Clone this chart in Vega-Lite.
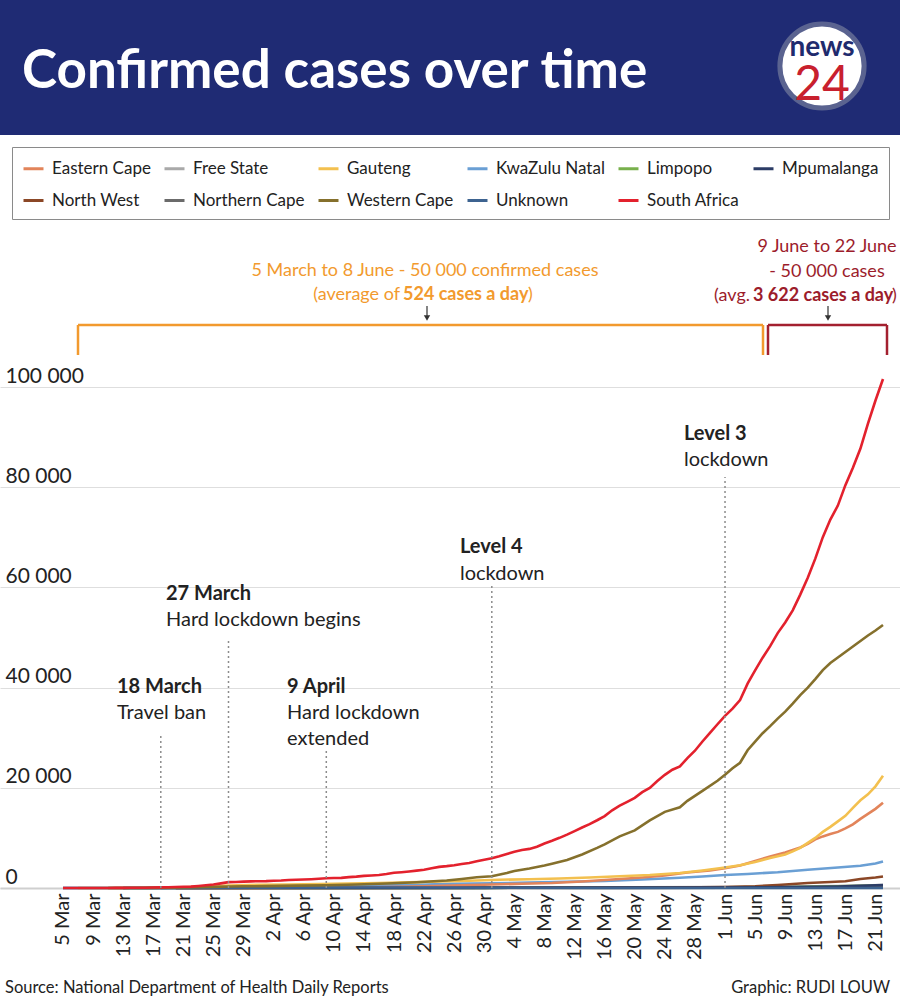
{
  "$schema": "https://vega.github.io/schema/vega-lite/v6.json",
  "width": 900,
  "height": 888,
  "autosize": {"type": "none"},
  "padding": {"left": 0, "top": 0, "right": 0, "bottom": 115},
  "background": "white",
  "config": {
    "view": {"stroke": null},
    "font": "Lato",
    "locale": {"number": {"decimal": ".", "thousands": " ", "grouping": [3], "currency": ["", ""]}},
    "axis": {"labelOverlap": false},
    "axisX": {"labelOverlap": false, "tickCount": 40}
  },
  "datasets": {
    "notes": [
      {"key": "title", "text": "Confirmed cases over time"},
      {"key": "logo1", "text": "news"},
      {"key": "logo2", "text": "24"},
      {"key": "o1", "text": "5 March to 8 June - 50 000 confirmed cases"},
      {"key": "o2", "text": "(average of"},
      {"key": "o3", "text": "524 cases a day"},
      {"key": "o4", "text": ")"},
      {"key": "r1", "text": ["9 June to 22 June", "- 50 000 cases"]},
      {"key": "r3", "text": "(avg."},
      {"key": "r4", "text": "3 622 cases a day"},
      {"key": "r5", "text": ")"},
      {"key": "e1", "date": "2020-03-18", "title": "18 March", "text": "Travel ban"},
      {"key": "e2", "date": "2020-03-27", "title": "27 March", "text": "Hard lockdown begins"},
      {"key": "e3", "date": "2020-04-09", "title": "9 April", "text": ["Hard lockdown", "extended"]},
      {"key": "e4", "date": "2020-05-01", "title": "Level 4", "text": "lockdown"},
      {"key": "e5", "date": "2020-06-01", "title": "Level 3", "text": "lockdown"},
      {"key": "src", "text": "Source: National Department of Health Daily Reports"},
      {"key": "credit", "text": "Graphic: RUDI LOUW"}
    ],
    "cases": [
      {"date": "2020-03-13", "region": "Free State", "cases": 1},
      {"date": "2020-03-27", "region": "Free State", "cases": 60},
      {"date": "2020-04-10", "region": "Free State", "cases": 90},
      {"date": "2020-04-30", "region": "Free State", "cases": 120},
      {"date": "2020-05-20", "region": "Free State", "cases": 140},
      {"date": "2020-06-01", "region": "Free State", "cases": 180},
      {"date": "2020-06-10", "region": "Free State", "cases": 300},
      {"date": "2020-06-16", "region": "Free State", "cases": 400},
      {"date": "2020-06-22", "region": "Free State", "cases": 580},
      {"date": "2020-03-18", "region": "Limpopo", "cases": 1},
      {"date": "2020-04-01", "region": "Limpopo", "cases": 15},
      {"date": "2020-04-30", "region": "Limpopo", "cases": 30},
      {"date": "2020-05-20", "region": "Limpopo", "cases": 80},
      {"date": "2020-06-01", "region": "Limpopo", "cases": 130},
      {"date": "2020-06-10", "region": "Limpopo", "cases": 200},
      {"date": "2020-06-16", "region": "Limpopo", "cases": 350},
      {"date": "2020-06-22", "region": "Limpopo", "cases": 500},
      {"date": "2020-03-20", "region": "Northern Cape", "cases": 1},
      {"date": "2020-04-10", "region": "Northern Cape", "cases": 16},
      {"date": "2020-05-01", "region": "Northern Cape", "cases": 20},
      {"date": "2020-05-20", "region": "Northern Cape", "cases": 30},
      {"date": "2020-06-01", "region": "Northern Cape", "cases": 50},
      {"date": "2020-06-10", "region": "Northern Cape", "cases": 80},
      {"date": "2020-06-16", "region": "Northern Cape", "cases": 150},
      {"date": "2020-06-22", "region": "Northern Cape", "cases": 250},
      {"date": "2020-03-20", "region": "North West", "cases": 1},
      {"date": "2020-04-10", "region": "North West", "cases": 20},
      {"date": "2020-05-01", "region": "North West", "cases": 40},
      {"date": "2020-05-15", "region": "North West", "cases": 60},
      {"date": "2020-05-25", "region": "North West", "cases": 100},
      {"date": "2020-06-01", "region": "North West", "cases": 200},
      {"date": "2020-06-05", "region": "North West", "cases": 350},
      {"date": "2020-06-08", "region": "North West", "cases": 600},
      {"date": "2020-06-10", "region": "North West", "cases": 800},
      {"date": "2020-06-12", "region": "North West", "cases": 1000},
      {"date": "2020-06-15", "region": "North West", "cases": 1200},
      {"date": "2020-06-17", "region": "North West", "cases": 1350},
      {"date": "2020-06-19", "region": "North West", "cases": 1800},
      {"date": "2020-06-21", "region": "North West", "cases": 2100},
      {"date": "2020-06-22", "region": "North West", "cases": 2300},
      {"date": "2020-03-05", "region": "KwaZulu Natal", "cases": 1},
      {"date": "2020-03-12", "region": "KwaZulu Natal", "cases": 5},
      {"date": "2020-03-18", "region": "KwaZulu Natal", "cases": 30},
      {"date": "2020-03-22", "region": "KwaZulu Natal", "cases": 60},
      {"date": "2020-03-27", "region": "KwaZulu Natal", "cases": 130},
      {"date": "2020-04-01", "region": "KwaZulu Natal", "cases": 220},
      {"date": "2020-04-06", "region": "KwaZulu Natal", "cases": 330},
      {"date": "2020-04-11", "region": "KwaZulu Natal", "cases": 400},
      {"date": "2020-04-16", "region": "KwaZulu Natal", "cases": 550},
      {"date": "2020-04-21", "region": "KwaZulu Natal", "cases": 650},
      {"date": "2020-04-26", "region": "KwaZulu Natal", "cases": 850},
      {"date": "2020-05-01", "region": "KwaZulu Natal", "cases": 950},
      {"date": "2020-05-06", "region": "KwaZulu Natal", "cases": 1080},
      {"date": "2020-05-11", "region": "KwaZulu Natal", "cases": 1250},
      {"date": "2020-05-16", "region": "KwaZulu Natal", "cases": 1400},
      {"date": "2020-05-21", "region": "KwaZulu Natal", "cases": 1700},
      {"date": "2020-05-26", "region": "KwaZulu Natal", "cases": 2050},
      {"date": "2020-05-29", "region": "KwaZulu Natal", "cases": 2300},
      {"date": "2020-06-01", "region": "KwaZulu Natal", "cases": 2600},
      {"date": "2020-06-04", "region": "KwaZulu Natal", "cases": 2800},
      {"date": "2020-06-08", "region": "KwaZulu Natal", "cases": 3150},
      {"date": "2020-06-12", "region": "KwaZulu Natal", "cases": 3650},
      {"date": "2020-06-16", "region": "KwaZulu Natal", "cases": 4100},
      {"date": "2020-06-19", "region": "KwaZulu Natal", "cases": 4450},
      {"date": "2020-06-21", "region": "KwaZulu Natal", "cases": 4900},
      {"date": "2020-06-22", "region": "KwaZulu Natal", "cases": 5300},
      {"date": "2020-03-20", "region": "Eastern Cape", "cases": 1},
      {"date": "2020-03-27", "region": "Eastern Cape", "cases": 20},
      {"date": "2020-04-03", "region": "Eastern Cape", "cases": 40},
      {"date": "2020-04-10", "region": "Eastern Cape", "cases": 50},
      {"date": "2020-04-17", "region": "Eastern Cape", "cases": 200},
      {"date": "2020-04-22", "region": "Eastern Cape", "cases": 350},
      {"date": "2020-04-27", "region": "Eastern Cape", "cases": 530},
      {"date": "2020-05-01", "region": "Eastern Cape", "cases": 700},
      {"date": "2020-05-05", "region": "Eastern Cape", "cases": 850},
      {"date": "2020-05-09", "region": "Eastern Cape", "cases": 1000},
      {"date": "2020-05-13", "region": "Eastern Cape", "cases": 1300},
      {"date": "2020-05-17", "region": "Eastern Cape", "cases": 1700},
      {"date": "2020-05-21", "region": "Eastern Cape", "cases": 2100},
      {"date": "2020-05-24", "region": "Eastern Cape", "cases": 2500},
      {"date": "2020-05-27", "region": "Eastern Cape", "cases": 3100},
      {"date": "2020-05-30", "region": "Eastern Cape", "cases": 3500},
      {"date": "2020-06-01", "region": "Eastern Cape", "cases": 3950},
      {"date": "2020-06-03", "region": "Eastern Cape", "cases": 4500},
      {"date": "2020-06-05", "region": "Eastern Cape", "cases": 5400},
      {"date": "2020-06-07", "region": "Eastern Cape", "cases": 6300},
      {"date": "2020-06-09", "region": "Eastern Cape", "cases": 7100},
      {"date": "2020-06-11", "region": "Eastern Cape", "cases": 8100},
      {"date": "2020-06-12", "region": "Eastern Cape", "cases": 8800},
      {"date": "2020-06-13", "region": "Eastern Cape", "cases": 9700},
      {"date": "2020-06-14", "region": "Eastern Cape", "cases": 10300},
      {"date": "2020-06-15", "region": "Eastern Cape", "cases": 10800},
      {"date": "2020-06-16", "region": "Eastern Cape", "cases": 11200},
      {"date": "2020-06-17", "region": "Eastern Cape", "cases": 11900},
      {"date": "2020-06-18", "region": "Eastern Cape", "cases": 12700},
      {"date": "2020-06-19", "region": "Eastern Cape", "cases": 13800},
      {"date": "2020-06-20", "region": "Eastern Cape", "cases": 14800},
      {"date": "2020-06-21", "region": "Eastern Cape", "cases": 15800},
      {"date": "2020-06-22", "region": "Eastern Cape", "cases": 17000},
      {"date": "2020-03-07", "region": "Gauteng", "cases": 1},
      {"date": "2020-03-11", "region": "Gauteng", "cases": 5},
      {"date": "2020-03-15", "region": "Gauteng", "cases": 20},
      {"date": "2020-03-18", "region": "Gauteng", "cases": 60},
      {"date": "2020-03-21", "region": "Gauteng", "cases": 120},
      {"date": "2020-03-24", "region": "Gauteng", "cases": 310},
      {"date": "2020-03-27", "region": "Gauteng", "cases": 500},
      {"date": "2020-03-31", "region": "Gauteng", "cases": 640},
      {"date": "2020-04-04", "region": "Gauteng", "cases": 700},
      {"date": "2020-04-08", "region": "Gauteng", "cases": 790},
      {"date": "2020-04-12", "region": "Gauteng", "cases": 880},
      {"date": "2020-04-16", "region": "Gauteng", "cases": 1000},
      {"date": "2020-04-20", "region": "Gauteng", "cases": 1120},
      {"date": "2020-04-24", "region": "Gauteng", "cases": 1300},
      {"date": "2020-04-28", "region": "Gauteng", "cases": 1450},
      {"date": "2020-05-02", "region": "Gauteng", "cases": 1650},
      {"date": "2020-05-06", "region": "Gauteng", "cases": 1750},
      {"date": "2020-05-10", "region": "Gauteng", "cases": 1900},
      {"date": "2020-05-14", "region": "Gauteng", "cases": 2100},
      {"date": "2020-05-18", "region": "Gauteng", "cases": 2350},
      {"date": "2020-05-22", "region": "Gauteng", "cases": 2600},
      {"date": "2020-05-26", "region": "Gauteng", "cases": 3000},
      {"date": "2020-05-29", "region": "Gauteng", "cases": 3500},
      {"date": "2020-06-01", "region": "Gauteng", "cases": 4100},
      {"date": "2020-06-03", "region": "Gauteng", "cases": 4550},
      {"date": "2020-06-05", "region": "Gauteng", "cases": 5200},
      {"date": "2020-06-07", "region": "Gauteng", "cases": 6000},
      {"date": "2020-06-09", "region": "Gauteng", "cases": 6700},
      {"date": "2020-06-10", "region": "Gauteng", "cases": 7300},
      {"date": "2020-06-11", "region": "Gauteng", "cases": 8000},
      {"date": "2020-06-12", "region": "Gauteng", "cases": 9000},
      {"date": "2020-06-13", "region": "Gauteng", "cases": 10000},
      {"date": "2020-06-14", "region": "Gauteng", "cases": 11200},
      {"date": "2020-06-15", "region": "Gauteng", "cases": 12200},
      {"date": "2020-06-16", "region": "Gauteng", "cases": 13300},
      {"date": "2020-06-17", "region": "Gauteng", "cases": 14400},
      {"date": "2020-06-18", "region": "Gauteng", "cases": 16000},
      {"date": "2020-06-19", "region": "Gauteng", "cases": 17500},
      {"date": "2020-06-20", "region": "Gauteng", "cases": 18700},
      {"date": "2020-06-21", "region": "Gauteng", "cases": 20300},
      {"date": "2020-06-22", "region": "Gauteng", "cases": 22400},
      {"date": "2020-03-13", "region": "Mpumalanga", "cases": 1},
      {"date": "2020-04-01", "region": "Mpumalanga", "cases": 10},
      {"date": "2020-04-30", "region": "Mpumalanga", "cases": 30},
      {"date": "2020-05-20", "region": "Mpumalanga", "cases": 80},
      {"date": "2020-06-01", "region": "Mpumalanga", "cases": 100},
      {"date": "2020-06-10", "region": "Mpumalanga", "cases": 200},
      {"date": "2020-06-16", "region": "Mpumalanga", "cases": 300},
      {"date": "2020-06-22", "region": "Mpumalanga", "cases": 580},
      {"date": "2020-03-05", "region": "Unknown", "cases": 0},
      {"date": "2020-03-22", "region": "Unknown", "cases": 10},
      {"date": "2020-04-01", "region": "Unknown", "cases": 50},
      {"date": "2020-04-15", "region": "Unknown", "cases": 100},
      {"date": "2020-05-01", "region": "Unknown", "cases": 50},
      {"date": "2020-05-15", "region": "Unknown", "cases": 0},
      {"date": "2020-06-01", "region": "Unknown", "cases": 0},
      {"date": "2020-06-22", "region": "Unknown", "cases": 0},
      {"date": "2020-03-11", "region": "Western Cape", "cases": 1},
      {"date": "2020-03-13", "region": "Western Cape", "cases": 5},
      {"date": "2020-03-15", "region": "Western Cape", "cases": 14},
      {"date": "2020-03-17", "region": "Western Cape", "cases": 25},
      {"date": "2020-03-19", "region": "Western Cape", "cases": 50},
      {"date": "2020-03-21", "region": "Western Cape", "cases": 90},
      {"date": "2020-03-23", "region": "Western Cape", "cases": 150},
      {"date": "2020-03-25", "region": "Western Cape", "cases": 230},
      {"date": "2020-03-27", "region": "Western Cape", "cases": 300},
      {"date": "2020-03-29", "region": "Western Cape", "cases": 340},
      {"date": "2020-04-01", "region": "Western Cape", "cases": 370},
      {"date": "2020-04-05", "region": "Western Cape", "cases": 480},
      {"date": "2020-04-09", "region": "Western Cape", "cases": 560},
      {"date": "2020-04-13", "region": "Western Cape", "cases": 700},
      {"date": "2020-04-17", "region": "Western Cape", "cases": 900},
      {"date": "2020-04-21", "region": "Western Cape", "cases": 1150},
      {"date": "2020-04-25", "region": "Western Cape", "cases": 1500},
      {"date": "2020-04-27", "region": "Western Cape", "cases": 1800},
      {"date": "2020-04-29", "region": "Western Cape", "cases": 2150},
      {"date": "2020-05-01", "region": "Western Cape", "cases": 2330},
      {"date": "2020-05-03", "region": "Western Cape", "cases": 3000},
      {"date": "2020-05-04", "region": "Western Cape", "cases": 3400},
      {"date": "2020-05-06", "region": "Western Cape", "cases": 3900},
      {"date": "2020-05-08", "region": "Western Cape", "cases": 4500},
      {"date": "2020-05-09", "region": "Western Cape", "cases": 4850},
      {"date": "2020-05-11", "region": "Western Cape", "cases": 5600},
      {"date": "2020-05-13", "region": "Western Cape", "cases": 6700},
      {"date": "2020-05-15", "region": "Western Cape", "cases": 8000},
      {"date": "2020-05-16", "region": "Western Cape", "cases": 8700},
      {"date": "2020-05-18", "region": "Western Cape", "cases": 10300},
      {"date": "2020-05-20", "region": "Western Cape", "cases": 11500},
      {"date": "2020-05-22", "region": "Western Cape", "cases": 13500},
      {"date": "2020-05-24", "region": "Western Cape", "cases": 15200},
      {"date": "2020-05-26", "region": "Western Cape", "cases": 16100},
      {"date": "2020-05-27", "region": "Western Cape", "cases": 17400},
      {"date": "2020-05-29", "region": "Western Cape", "cases": 19400},
      {"date": "2020-05-31", "region": "Western Cape", "cases": 21400},
      {"date": "2020-06-01", "region": "Western Cape", "cases": 22600},
      {"date": "2020-06-02", "region": "Western Cape", "cases": 23900},
      {"date": "2020-06-03", "region": "Western Cape", "cases": 25000},
      {"date": "2020-06-04", "region": "Western Cape", "cases": 27500},
      {"date": "2020-06-05", "region": "Western Cape", "cases": 29200},
      {"date": "2020-06-06", "region": "Western Cape", "cases": 30900},
      {"date": "2020-06-07", "region": "Western Cape", "cases": 32300},
      {"date": "2020-06-08", "region": "Western Cape", "cases": 33800},
      {"date": "2020-06-09", "region": "Western Cape", "cases": 35200},
      {"date": "2020-06-10", "region": "Western Cape", "cases": 36800},
      {"date": "2020-06-11", "region": "Western Cape", "cases": 38500},
      {"date": "2020-06-12", "region": "Western Cape", "cases": 40000},
      {"date": "2020-06-13", "region": "Western Cape", "cases": 41700},
      {"date": "2020-06-14", "region": "Western Cape", "cases": 43500},
      {"date": "2020-06-15", "region": "Western Cape", "cases": 44900},
      {"date": "2020-06-16", "region": "Western Cape", "cases": 46000},
      {"date": "2020-06-17", "region": "Western Cape", "cases": 47100},
      {"date": "2020-06-18", "region": "Western Cape", "cases": 48200},
      {"date": "2020-06-19", "region": "Western Cape", "cases": 49300},
      {"date": "2020-06-20", "region": "Western Cape", "cases": 50400},
      {"date": "2020-06-21", "region": "Western Cape", "cases": 51400},
      {"date": "2020-06-22", "region": "Western Cape", "cases": 52500},
      {"date": "2020-03-05", "region": "South Africa", "cases": 1},
      {"date": "2020-03-07", "region": "South Africa", "cases": 2},
      {"date": "2020-03-08", "region": "South Africa", "cases": 3},
      {"date": "2020-03-09", "region": "South Africa", "cases": 7},
      {"date": "2020-03-11", "region": "South Africa", "cases": 13},
      {"date": "2020-03-12", "region": "South Africa", "cases": 16},
      {"date": "2020-03-13", "region": "South Africa", "cases": 24},
      {"date": "2020-03-14", "region": "South Africa", "cases": 38},
      {"date": "2020-03-15", "region": "South Africa", "cases": 51},
      {"date": "2020-03-16", "region": "South Africa", "cases": 62},
      {"date": "2020-03-17", "region": "South Africa", "cases": 85},
      {"date": "2020-03-18", "region": "South Africa", "cases": 116},
      {"date": "2020-03-19", "region": "South Africa", "cases": 150},
      {"date": "2020-03-20", "region": "South Africa", "cases": 202},
      {"date": "2020-03-21", "region": "South Africa", "cases": 240},
      {"date": "2020-03-22", "region": "South Africa", "cases": 274},
      {"date": "2020-03-23", "region": "South Africa", "cases": 402},
      {"date": "2020-03-24", "region": "South Africa", "cases": 554},
      {"date": "2020-03-25", "region": "South Africa", "cases": 709},
      {"date": "2020-03-26", "region": "South Africa", "cases": 927},
      {"date": "2020-03-27", "region": "South Africa", "cases": 1170},
      {"date": "2020-03-28", "region": "South Africa", "cases": 1187},
      {"date": "2020-03-29", "region": "South Africa", "cases": 1280},
      {"date": "2020-03-30", "region": "South Africa", "cases": 1326},
      {"date": "2020-03-31", "region": "South Africa", "cases": 1353},
      {"date": "2020-04-01", "region": "South Africa", "cases": 1380},
      {"date": "2020-04-02", "region": "South Africa", "cases": 1462},
      {"date": "2020-04-03", "region": "South Africa", "cases": 1505},
      {"date": "2020-04-04", "region": "South Africa", "cases": 1585},
      {"date": "2020-04-05", "region": "South Africa", "cases": 1655},
      {"date": "2020-04-06", "region": "South Africa", "cases": 1686},
      {"date": "2020-04-07", "region": "South Africa", "cases": 1749},
      {"date": "2020-04-08", "region": "South Africa", "cases": 1845},
      {"date": "2020-04-09", "region": "South Africa", "cases": 1934},
      {"date": "2020-04-10", "region": "South Africa", "cases": 2003},
      {"date": "2020-04-11", "region": "South Africa", "cases": 2028},
      {"date": "2020-04-12", "region": "South Africa", "cases": 2173},
      {"date": "2020-04-13", "region": "South Africa", "cases": 2272},
      {"date": "2020-04-14", "region": "South Africa", "cases": 2415},
      {"date": "2020-04-15", "region": "South Africa", "cases": 2506},
      {"date": "2020-04-16", "region": "South Africa", "cases": 2605},
      {"date": "2020-04-17", "region": "South Africa", "cases": 2783},
      {"date": "2020-04-18", "region": "South Africa", "cases": 3034},
      {"date": "2020-04-19", "region": "South Africa", "cases": 3158},
      {"date": "2020-04-20", "region": "South Africa", "cases": 3300},
      {"date": "2020-04-21", "region": "South Africa", "cases": 3465},
      {"date": "2020-04-22", "region": "South Africa", "cases": 3635},
      {"date": "2020-04-23", "region": "South Africa", "cases": 3953},
      {"date": "2020-04-24", "region": "South Africa", "cases": 4220},
      {"date": "2020-04-25", "region": "South Africa", "cases": 4361},
      {"date": "2020-04-26", "region": "South Africa", "cases": 4546},
      {"date": "2020-04-27", "region": "South Africa", "cases": 4793},
      {"date": "2020-04-28", "region": "South Africa", "cases": 4996},
      {"date": "2020-04-29", "region": "South Africa", "cases": 5350},
      {"date": "2020-04-30", "region": "South Africa", "cases": 5647},
      {"date": "2020-05-01", "region": "South Africa", "cases": 5951},
      {"date": "2020-05-02", "region": "South Africa", "cases": 6336},
      {"date": "2020-05-03", "region": "South Africa", "cases": 6783},
      {"date": "2020-05-04", "region": "South Africa", "cases": 7220},
      {"date": "2020-05-05", "region": "South Africa", "cases": 7572},
      {"date": "2020-05-06", "region": "South Africa", "cases": 7808},
      {"date": "2020-05-07", "region": "South Africa", "cases": 8232},
      {"date": "2020-05-08", "region": "South Africa", "cases": 8895},
      {"date": "2020-05-09", "region": "South Africa", "cases": 9420},
      {"date": "2020-05-10", "region": "South Africa", "cases": 10015},
      {"date": "2020-05-11", "region": "South Africa", "cases": 10652},
      {"date": "2020-05-12", "region": "South Africa", "cases": 11350},
      {"date": "2020-05-13", "region": "South Africa", "cases": 12074},
      {"date": "2020-05-14", "region": "South Africa", "cases": 12739},
      {"date": "2020-05-15", "region": "South Africa", "cases": 13524},
      {"date": "2020-05-16", "region": "South Africa", "cases": 14355},
      {"date": "2020-05-17", "region": "South Africa", "cases": 15515},
      {"date": "2020-05-18", "region": "South Africa", "cases": 16433},
      {"date": "2020-05-19", "region": "South Africa", "cases": 17200},
      {"date": "2020-05-20", "region": "South Africa", "cases": 18003},
      {"date": "2020-05-21", "region": "South Africa", "cases": 19137},
      {"date": "2020-05-22", "region": "South Africa", "cases": 19980},
      {"date": "2020-05-23", "region": "South Africa", "cases": 21343},
      {"date": "2020-05-24", "region": "South Africa", "cases": 22583},
      {"date": "2020-05-25", "region": "South Africa", "cases": 23615},
      {"date": "2020-05-26", "region": "South Africa", "cases": 24264},
      {"date": "2020-05-27", "region": "South Africa", "cases": 25937},
      {"date": "2020-05-28", "region": "South Africa", "cases": 27403},
      {"date": "2020-05-29", "region": "South Africa", "cases": 29240},
      {"date": "2020-05-30", "region": "South Africa", "cases": 30967},
      {"date": "2020-05-31", "region": "South Africa", "cases": 32683},
      {"date": "2020-06-01", "region": "South Africa", "cases": 34357},
      {"date": "2020-06-02", "region": "South Africa", "cases": 35812},
      {"date": "2020-06-03", "region": "South Africa", "cases": 37525},
      {"date": "2020-06-04", "region": "South Africa", "cases": 40792},
      {"date": "2020-06-05", "region": "South Africa", "cases": 43434},
      {"date": "2020-06-06", "region": "South Africa", "cases": 45973},
      {"date": "2020-06-07", "region": "South Africa", "cases": 48285},
      {"date": "2020-06-08", "region": "South Africa", "cases": 50879},
      {"date": "2020-06-09", "region": "South Africa", "cases": 52991},
      {"date": "2020-06-10", "region": "South Africa", "cases": 55421},
      {"date": "2020-06-11", "region": "South Africa", "cases": 58568},
      {"date": "2020-06-12", "region": "South Africa", "cases": 61927},
      {"date": "2020-06-13", "region": "South Africa", "cases": 65736},
      {"date": "2020-06-14", "region": "South Africa", "cases": 70038},
      {"date": "2020-06-15", "region": "South Africa", "cases": 73533},
      {"date": "2020-06-16", "region": "South Africa", "cases": 76334},
      {"date": "2020-06-17", "region": "South Africa", "cases": 80412},
      {"date": "2020-06-18", "region": "South Africa", "cases": 83890},
      {"date": "2020-06-19", "region": "South Africa", "cases": 87715},
      {"date": "2020-06-20", "region": "South Africa", "cases": 92681},
      {"date": "2020-06-21", "region": "South Africa", "cases": 97302},
      {"date": "2020-06-22", "region": "South Africa", "cases": 101590}
    ]
  },
  "data": {"name": "notes"},
  "layer": [
    {"data": {"name": "cases"},
     "mark": {"type": "line", "strokeWidth": 2.6, "clip": false},
     "encoding": {
       "x": {"field": "date", "type": "temporal",
             "scale": {"type": "utc", "domain": [1582642886400, 1592979264000]},
             "axis": {"title": null, "tickCount": 40, "values": [
               {"year": 2020, "month": 3, "date": 5, "utc": true}, {"year": 2020, "month": 3, "date": 9, "utc": true},
               {"year": 2020, "month": 3, "date": 13, "utc": true}, {"year": 2020, "month": 3, "date": 17, "utc": true},
               {"year": 2020, "month": 3, "date": 21, "utc": true}, {"year": 2020, "month": 3, "date": 25, "utc": true},
               {"year": 2020, "month": 3, "date": 29, "utc": true}, {"year": 2020, "month": 4, "date": 2, "utc": true},
               {"year": 2020, "month": 4, "date": 6, "utc": true}, {"year": 2020, "month": 4, "date": 10, "utc": true},
               {"year": 2020, "month": 4, "date": 14, "utc": true}, {"year": 2020, "month": 4, "date": 18, "utc": true},
               {"year": 2020, "month": 4, "date": 22, "utc": true}, {"year": 2020, "month": 4, "date": 26, "utc": true},
               {"year": 2020, "month": 4, "date": 30, "utc": true}, {"year": 2020, "month": 5, "date": 4, "utc": true},
               {"year": 2020, "month": 5, "date": 8, "utc": true}, {"year": 2020, "month": 5, "date": 12, "utc": true},
               {"year": 2020, "month": 5, "date": 16, "utc": true}, {"year": 2020, "month": 5, "date": 20, "utc": true},
               {"year": 2020, "month": 5, "date": 24, "utc": true}, {"year": 2020, "month": 5, "date": 28, "utc": true},
               {"year": 2020, "month": 6, "date": 1, "utc": true}, {"year": 2020, "month": 6, "date": 5, "utc": true},
               {"year": 2020, "month": 6, "date": 9, "utc": true}, {"year": 2020, "month": 6, "date": 13, "utc": true},
               {"year": 2020, "month": 6, "date": 17, "utc": true}, {"year": 2020, "month": 6, "date": 21, "utc": true}],
               "format": "%-d %b", "labelAngle": -90, "labelAlign": "right", "labelBaseline": "middle",
               "labelFont": "Lato", "labelFontSize": 20, "labelColor": "#222222", "labelPadding": 5,
               "ticks": false, "grid": false, "domain": true, "domainColor": "#cfcfcf", "domainWidth": 2,
               "labelOverlap": false, "labelFlush": false, "labelBound": false}},
       "y": {"field": "cases", "type": "quantitative",
             "scale": {"domain": [0, 177250], "nice": false, "zero": true},
             "axis": {"title": null, "values": [0, 20000, 40000, 60000, 80000, 100000],
               "domain": false, "ticks": false, "grid": true, "gridColor": "#dedede", "gridWidth": 1,
               "labelAlign": "left", "labelBaseline": "alphabetic", "labelPadding": -5, "labelOffset": -5,
               "labelFont": "Lato", "labelFontSize": 21, "labelColor": "#222222", "labelFlush": false,
               "labelOverlap": false, "labelBound": false, "format": ",d"}},
       "color": {"field": "region", "type": "nominal",
         "scale": {"domain": ["Eastern Cape", "Free State", "Gauteng", "KwaZulu Natal", "Limpopo", "Mpumalanga", "North West", "Northern Cape", "Western Cape", "Unknown", "South Africa"],
                   "range": ["#e2845a", "#a9a9a9", "#f3c04f", "#6a9fd4", "#78b04c", "#2c3c66", "#8b4726", "#6b6b6b", "#85702c", "#3d6390", "#e3212d"]},
         "legend": {"title": null, "orient": "none", "legendX": 12, "legendY": 147, "columns": 6, "direction": "horizontal",
           "symbolType": "stroke", "symbolStrokeWidth": 3, "symbolSize": 400, "labelFont": "Lato", "labelFontSize": 17,
           "labelColor": "#222222", "labelLimit": 300, "labelOffset": 7, "columnPadding": 7, "rowPadding": 12,
           "padding": 10, "strokeColor": "#8a8a8a"}}
     }},

    {"transform": [{"filter": "datum.key == 'title'"}],
     "mark": {"type": "rect", "color": "#1f2b74"},
     "encoding": {"x": {"datum": 1582642886400, "type": "temporal"}, "x2": {"datum": 1592979264000},
                  "y": {"datum": 150303, "type": "quantitative"}, "y2": {"datum": 177250}}},
    {"transform": [{"filter": "datum.key == 'title'"}],
     "mark": {"type": "text", "align": "left", "baseline": "alphabetic", "font": "Lato", "fontSize": 53, "fontWeight": "bold", "color": "#ffffff"},
     "encoding": {"x": {"datum": 1582895553408, "type": "temporal"}, "y": {"datum": 159685, "type": "quantitative"}, "text": {"field": "text"}}},
    {"transform": [{"filter": "datum.key == 'logo1'"}],
     "mark": {"type": "point", "shape": "circle", "filled": true, "fill": "#ffffff", "stroke": "#5a6390", "strokeWidth": 5, "size": 7088, "opacity": 1},
     "encoding": {"x": {"datum": 1592083444608, "type": "temporal"}, "y": {"datum": 164076, "type": "quantitative"}}},
    {"transform": [{"filter": "datum.key == 'logo1'"}],
     "mark": {"type": "text", "align": "center", "baseline": "alphabetic", "font": "Lato", "fontSize": 28, "fontWeight": "bold", "color": "#1f2b6e"},
     "encoding": {"x": {"datum": 1592083444608, "type": "temporal"}, "y": {"datum": 166072, "type": "quantitative"}, "text": {"field": "text"}}},
    {"transform": [{"filter": "datum.key == 'logo2'"}],
     "mark": {"type": "text", "align": "center", "baseline": "alphabetic", "font": "Lato", "fontSize": 48, "color": "#c8202e"},
     "encoding": {"x": {"datum": 1592083444608, "type": "temporal"}, "y": {"datum": 157290, "type": "quantitative"}, "text": {"field": "text"}}},

    {"transform": [{"filter": "datum.key == 'o1'"}],
     "mark": {"type": "rule", "color": "#f29a2e", "strokeWidth": 2.5},
     "encoding": {"x": {"datum": 1583538705792, "type": "temporal"}, "x2": {"datum": 1591405837632}, "y": {"datum": 112378, "type": "quantitative"}}},
    {"transform": [{"filter": "datum.key == 'o1'"}],
     "mark": {"type": "rule", "color": "#f29a2e", "strokeWidth": 2.5},
     "encoding": {"x": {"datum": 1583538705792, "type": "temporal"}, "y": {"datum": 106390, "type": "quantitative"}, "y2": {"datum": 112378}}},
    {"transform": [{"filter": "datum.key == 'o1'"}],
     "mark": {"type": "rule", "color": "#f29a2e", "strokeWidth": 2.5},
     "encoding": {"x": {"datum": 1591405837632, "type": "temporal"}, "y": {"datum": 106390, "type": "quantitative"}, "y2": {"datum": 112378}}},
    {"transform": [{"filter": "datum.key == 'r1'"}],
     "mark": {"type": "rule", "color": "#a3202f", "strokeWidth": 2.5},
     "encoding": {"x": {"datum": 1591463261952, "type": "temporal"}, "x2": {"datum": 1592829960768}, "y": {"datum": 112378, "type": "quantitative"}}},
    {"transform": [{"filter": "datum.key == 'r1'"}],
     "mark": {"type": "rule", "color": "#a3202f", "strokeWidth": 2.5},
     "encoding": {"x": {"datum": 1591463261952, "type": "temporal"}, "y": {"datum": 106390, "type": "quantitative"}, "y2": {"datum": 112378}}},
    {"transform": [{"filter": "datum.key == 'r1'"}],
     "mark": {"type": "rule", "color": "#a3202f", "strokeWidth": 2.5},
     "encoding": {"x": {"datum": 1592829960768, "type": "temporal"}, "y": {"datum": 106390, "type": "quantitative"}, "y2": {"datum": 112378}}},

    {"transform": [{"filter": "datum.key == 'o1'"}],
     "mark": {"type": "rule", "color": "#333333", "strokeWidth": 1.2},
     "encoding": {"x": {"datum": 1587546923328, "type": "temporal"}, "y": {"datum": 113975, "type": "quantitative"}, "y2": {"datum": 116171}}},
    {"transform": [{"filter": "datum.key == 'o1'"}],
     "mark": {"type": "point", "shape": "triangle-down", "filled": true, "color": "#333333", "size": 40, "opacity": 1},
     "encoding": {"x": {"datum": 1587546923328, "type": "temporal"}, "y": {"datum": 113776, "type": "quantitative"}}},
    {"transform": [{"filter": "datum.key == 'r1'"}],
     "mark": {"type": "rule", "color": "#333333", "strokeWidth": 1.2},
     "encoding": {"x": {"datum": 1592152353792, "type": "temporal"}, "y": {"datum": 113975, "type": "quantitative"}, "y2": {"datum": 116171}}},
    {"transform": [{"filter": "datum.key == 'r1'"}],
     "mark": {"type": "point", "shape": "triangle-down", "filled": true, "color": "#333333", "size": 40, "opacity": 1},
     "encoding": {"x": {"datum": 1592152353792, "type": "temporal"}, "y": {"datum": 113776, "type": "quantitative"}}},

    {"transform": [{"filter": "datum.key == 'o1'"}],
     "mark": {"type": "text", "align": "center", "baseline": "alphabetic", "font": "Lato", "fontSize": 18, "color": "#f29a2e"},
     "encoding": {"x": {"datum": 1587523953600, "type": "temporal"}, "y": {"datum": 122159, "type": "quantitative"}, "text": {"field": "text"}}},
    {"transform": [{"filter": "datum.key == 'o2'"}],
     "mark": {"type": "text", "align": "right", "baseline": "alphabetic", "font": "Lato", "fontSize": 18, "color": "#f29a2e"},
     "encoding": {"x": {"datum": 1587236832000, "type": "temporal"}, "y": {"datum": 117368, "type": "quantitative"}, "text": {"field": "text"}}},
    {"transform": [{"filter": "datum.key == 'o3'"}],
     "mark": {"type": "text", "align": "left", "baseline": "alphabetic", "font": "Lato", "fontSize": 18, "fontWeight": "bold", "color": "#f29a2e"},
     "encoding": {"x": {"datum": 1587271286592, "type": "temporal"}, "y": {"datum": 117368, "type": "quantitative"}, "text": {"field": "text"}}},
    {"transform": [{"filter": "datum.key == 'o4'"}],
     "mark": {"type": "text", "align": "left", "baseline": "alphabetic", "font": "Lato", "fontSize": 18, "color": "#f29a2e"},
     "encoding": {"x": {"datum": 1588706094592, "type": "temporal"}, "y": {"datum": 117368, "type": "quantitative"}, "text": {"field": "text"}}},
    {"transform": [{"filter": "datum.key == 'r1'"}],
     "mark": {"type": "text", "align": "center", "baseline": "alphabetic", "font": "Lato", "fontSize": 18, "color": "#9c1c2b", "lineHeight": 25},
     "encoding": {"x": {"datum": 1592140868928, "type": "temporal"}, "y": {"datum": 126949, "type": "quantitative"}, "text": {"field": "text"}}},
    {"transform": [{"filter": "datum.key == 'r3'"}],
     "mark": {"type": "text", "align": "right", "baseline": "alphabetic", "font": "Lato", "fontSize": 18, "color": "#9c1c2b"},
     "encoding": {"x": {"datum": 1591256534400, "type": "temporal"}, "y": {"datum": 117169, "type": "quantitative"}, "text": {"field": "text"}}},
    {"transform": [{"filter": "datum.key == 'r4'"}],
     "mark": {"type": "text", "align": "left", "baseline": "alphabetic", "font": "Lato", "fontSize": 18, "fontWeight": "bold", "color": "#9c1c2b"},
     "encoding": {"x": {"datum": 1591290988992, "type": "temporal"}, "y": {"datum": 117169, "type": "quantitative"}, "text": {"field": "text"}}},
    {"transform": [{"filter": "datum.key == 'r5'"}],
     "mark": {"type": "text", "align": "left", "baseline": "alphabetic", "font": "Lato", "fontSize": 18, "color": "#9c1c2b"},
     "encoding": {"x": {"datum": 1592887385088, "type": "temporal"}, "y": {"datum": 117169, "type": "quantitative"}, "text": {"field": "text"}}},

    {"transform": [{"filter": "datum.key == 'e1'"}],
     "mark": {"type": "rule", "color": "#8c8c8c", "strokeWidth": 1.5, "strokeDash": [2, 3]},
     "encoding": {"x": {"field": "date", "type": "temporal"}, "y": {"datum": 0, "type": "quantitative"}, "y2": {"datum": 30939}}},
    {"transform": [{"filter": "datum.key == 'e2'"}],
     "mark": {"type": "rule", "color": "#8c8c8c", "strokeWidth": 1.5, "strokeDash": [2, 3]},
     "encoding": {"x": {"field": "date", "type": "temporal"}, "y": {"datum": 0, "type": "quantitative"}, "y2": {"datum": 49902}}},
    {"transform": [{"filter": "datum.key == 'e3'"}],
     "mark": {"type": "rule", "color": "#8c8c8c", "strokeWidth": 1.5, "strokeDash": [2, 3]},
     "encoding": {"x": {"field": "date", "type": "temporal"}, "y": {"datum": 0, "type": "quantitative"}, "y2": {"datum": 27546}}},
    {"transform": [{"filter": "datum.key == 'e4'"}],
     "mark": {"type": "rule", "color": "#8c8c8c", "strokeWidth": 1.5, "strokeDash": [2, 3]},
     "encoding": {"x": {"field": "date", "type": "temporal"}, "y": {"datum": 0, "type": "quantitative"}, "y2": {"datum": 60481}}},
    {"transform": [{"filter": "datum.key == 'e5'"}],
     "mark": {"type": "rule", "color": "#8c8c8c", "strokeWidth": 1.5, "strokeDash": [2, 3]},
     "encoding": {"x": {"field": "date", "type": "temporal"}, "y": {"datum": 0, "type": "quantitative"}, "y2": {"datum": 82038}}},

    {"transform": [{"filter": "datum.key == 'e1'"}],
     "mark": {"type": "text", "align": "left", "baseline": "alphabetic", "fontSize": 20, "fontWeight": "bold", "color": "#222222"},
     "encoding": {"x": {"datum": 1583986615488, "type": "temporal"}, "y": {"datum": 38923, "type": "quantitative"}, "text": {"field": "title"}}},
    {"transform": [{"filter": "datum.key == 'e1'"}],
     "mark": {"type": "text", "align": "left", "baseline": "alphabetic", "fontSize": 20, "color": "#222222"},
     "encoding": {"x": {"datum": 1583986615488, "type": "temporal"}, "y": {"datum": 33733, "type": "quantitative"}, "text": {"field": "text"}}},
    {"transform": [{"filter": "datum.key == 'e2'"}],
     "mark": {"type": "text", "align": "left", "baseline": "alphabetic", "fontSize": 20, "fontWeight": "bold", "color": "#222222"},
     "encoding": {"x": {"datum": 1584549373824, "type": "temporal"}, "y": {"datum": 57487, "type": "quantitative"}, "text": {"field": "title"}}},
    {"transform": [{"filter": "datum.key == 'e2'"}],
     "mark": {"type": "text", "align": "left", "baseline": "alphabetic", "fontSize": 20, "color": "#222222"},
     "encoding": {"x": {"datum": 1584549373824, "type": "temporal"}, "y": {"datum": 52297, "type": "quantitative"}, "text": {"field": "text"}}},
    {"transform": [{"filter": "datum.key == 'e3'"}],
     "mark": {"type": "text", "align": "left", "baseline": "alphabetic", "fontSize": 20, "fontWeight": "bold", "color": "#222222"},
     "encoding": {"x": {"datum": 1585939042368, "type": "temporal"}, "y": {"datum": 38923, "type": "quantitative"}, "text": {"field": "title"}}},
    {"transform": [{"filter": "datum.key == 'e3'"}],
     "mark": {"type": "text", "align": "left", "baseline": "alphabetic", "fontSize": 20, "color": "#222222", "lineHeight": 26},
     "encoding": {"x": {"datum": 1585939042368, "type": "temporal"}, "y": {"datum": 33733, "type": "quantitative"}, "text": {"field": "text"}}},
    {"transform": [{"filter": "datum.key == 'e4'"}],
     "mark": {"type": "text", "align": "left", "baseline": "alphabetic", "fontSize": 20, "fontWeight": "bold", "color": "#222222"},
     "encoding": {"x": {"datum": 1587925923840, "type": "temporal"}, "y": {"datum": 66868, "type": "quantitative"}, "text": {"field": "title"}}},
    {"transform": [{"filter": "datum.key == 'e4'"}],
     "mark": {"type": "text", "align": "left", "baseline": "alphabetic", "fontSize": 20, "color": "#222222"},
     "encoding": {"x": {"datum": 1587925923840, "type": "temporal"}, "y": {"datum": 61479, "type": "quantitative"}, "text": {"field": "text"}}},
    {"transform": [{"filter": "datum.key == 'e5'"}],
     "mark": {"type": "text", "align": "left", "baseline": "alphabetic", "fontSize": 20, "fontWeight": "bold", "color": "#222222"},
     "encoding": {"x": {"datum": 1590498533376, "type": "temporal"}, "y": {"datum": 89423, "type": "quantitative"}, "text": {"field": "title"}}},
    {"transform": [{"filter": "datum.key == 'e5'"}],
     "mark": {"type": "text", "align": "left", "baseline": "alphabetic", "fontSize": 20, "color": "#222222"},
     "encoding": {"x": {"datum": 1590498533376, "type": "temporal"}, "y": {"datum": 84234, "type": "quantitative"}, "text": {"field": "text"}}},

    {"transform": [{"filter": "datum.key == 'src'"}],
     "mark": {"type": "text", "align": "left", "baseline": "alphabetic", "font": "Lato", "fontSize": 16.5, "color": "#222222"},
     "encoding": {"x": {"datum": 1582700310720, "type": "temporal"}, "y": {"datum": -20959, "type": "quantitative"}, "text": {"field": "text"}}},
    {"transform": [{"filter": "datum.key == 'credit'"}],
     "mark": {"type": "text", "align": "right", "baseline": "alphabetic", "font": "Lato", "fontSize": 16.5, "color": "#222222"},
     "encoding": {"x": {"datum": 1592864415360, "type": "temporal"}, "y": {"datum": -20959, "type": "quantitative"}, "text": {"field": "text"}}}
  ]
}
